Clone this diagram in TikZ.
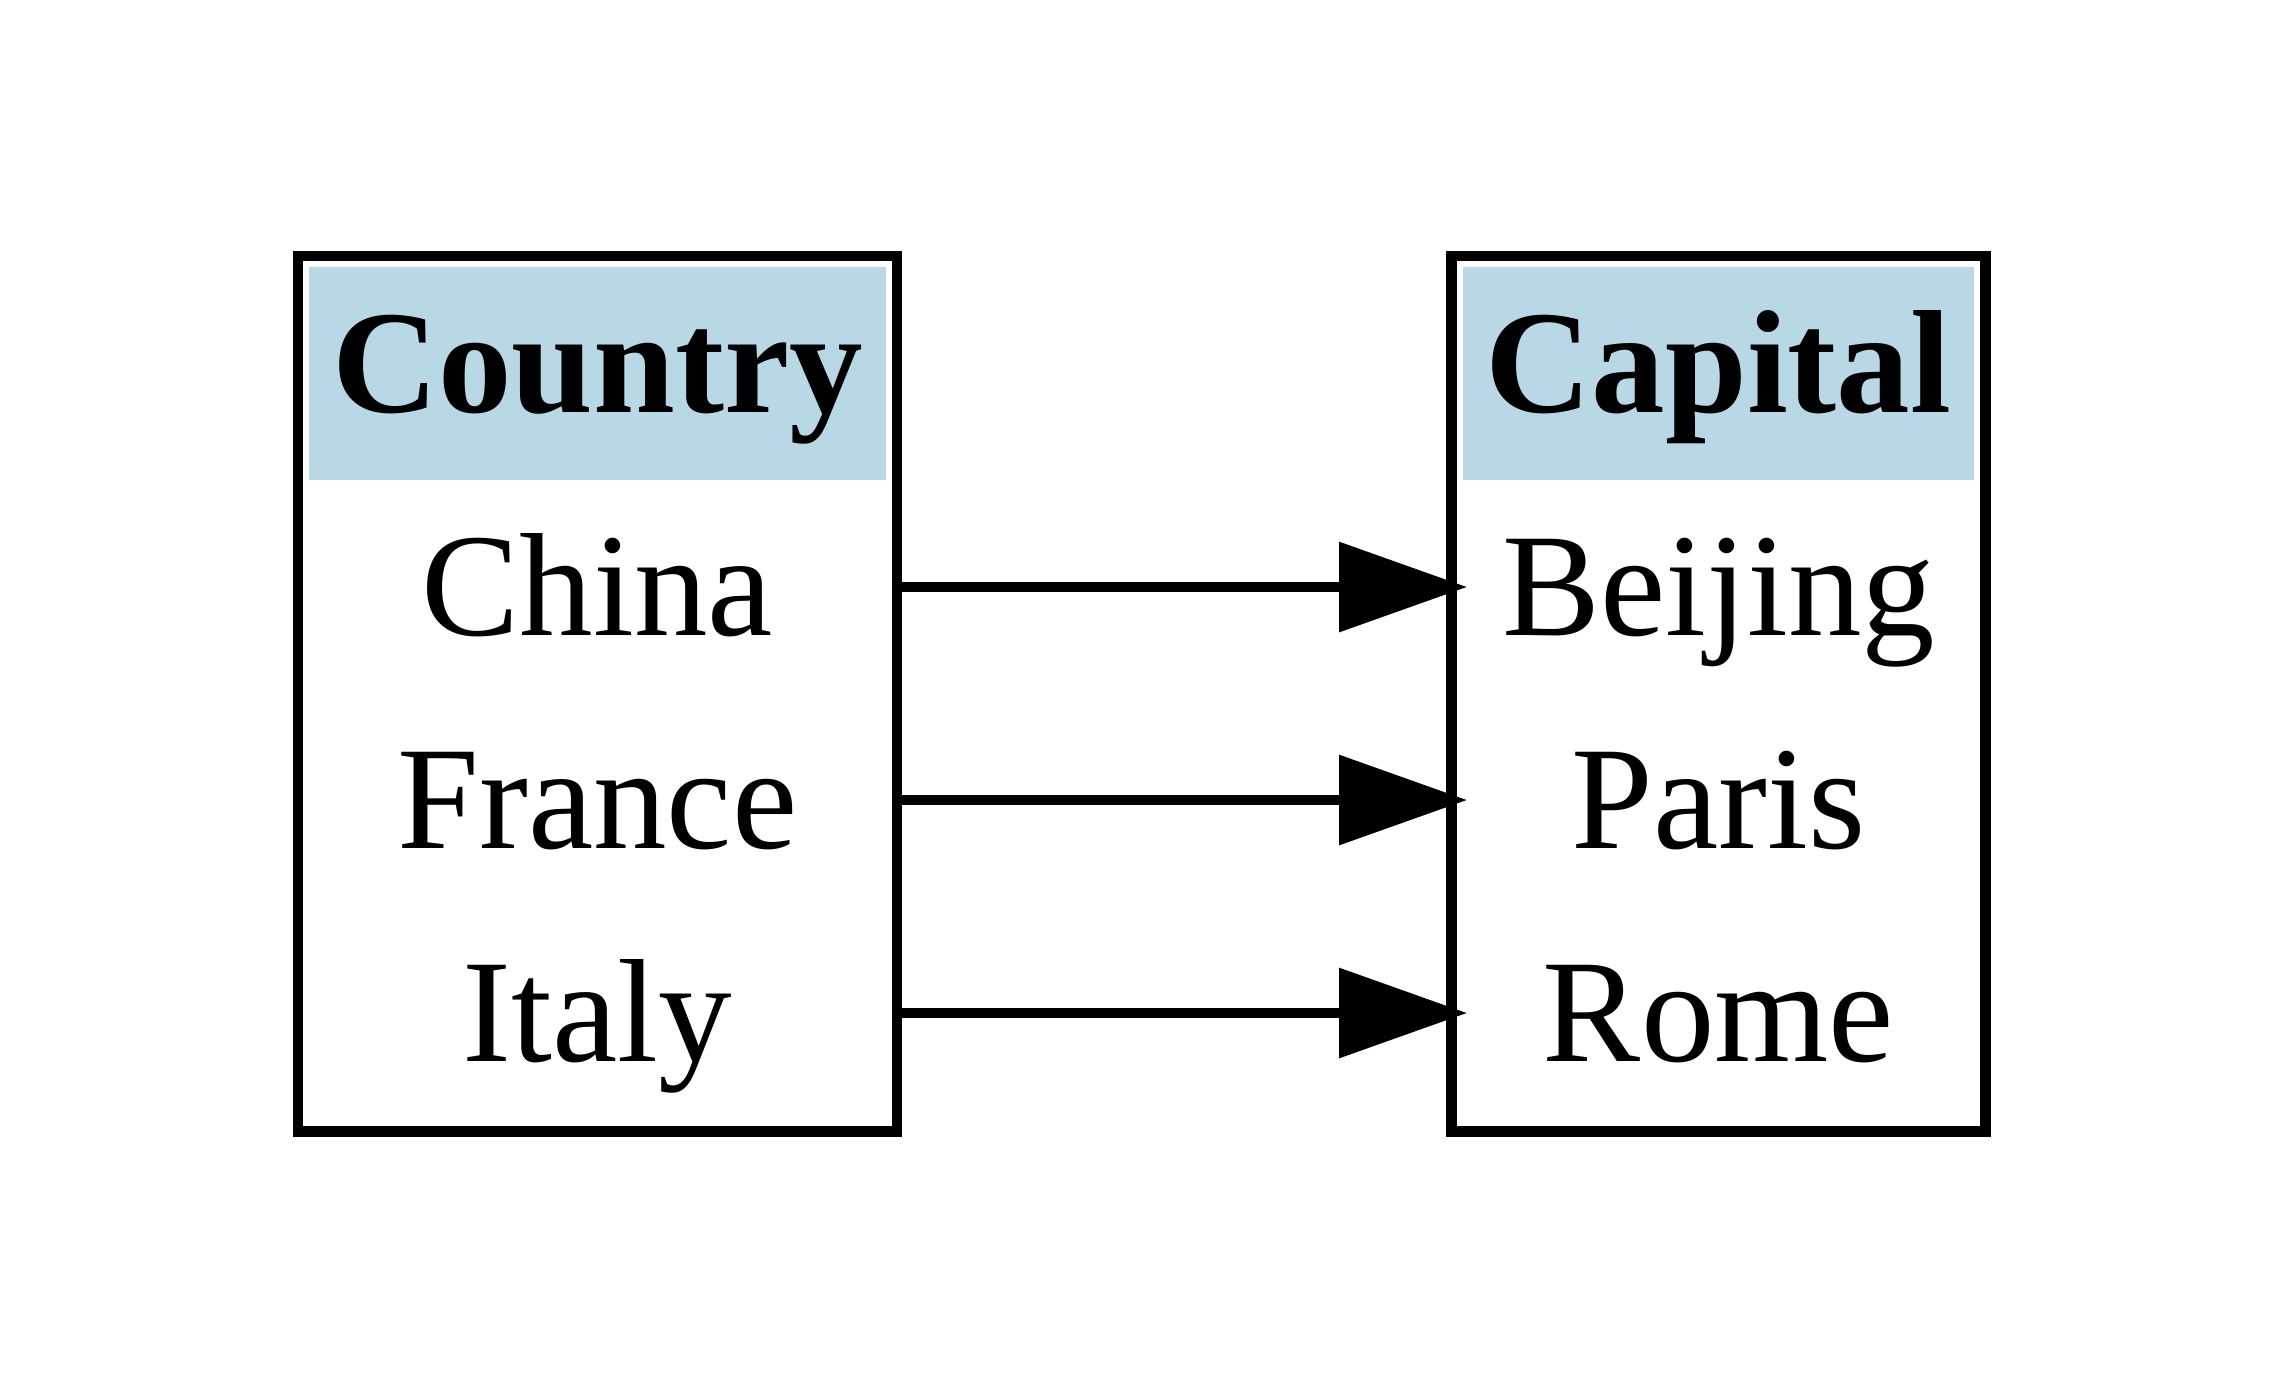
\documentclass[tikz,border=0pt]{standalone}
\usepackage{fontspec}
\setmainfont{Liberation Serif}
\usetikzlibrary{arrows.meta}
\definecolor{headblue}{RGB}{183,216,228}
\begin{document}
\begin{tikzpicture}[x=1pt,y=-1pt,
  tablebox/.style={draw=black, line width=2.625pt, inner sep=0pt, outer sep=0pt, minimum height=218.875pt},
  headcell/.style={fill=headblue, inner sep=0pt, outer sep=0pt, minimum height=53.25pt,
    text height=28pt, text depth=8.75pt, font=\fontsize{36.75pt}{44pt}\selectfont\bfseries},
  rowcell/.style={inner sep=0pt, outer sep=0pt, minimum height=53.25pt,
    text height=30pt, text depth=6pt, font=\fontsize{36.75pt}{44pt}\selectfont},
  edge/.style={draw=black, line width=2.5pt, shorten >=-3.875pt,
    -{Triangle[length=32pt, width=22pt]}}
]
\useasboundingbox (0,0) rectangle (570,346);
% left table
\node[tablebox, minimum width=149.75pt] (countrybox) at (149.375,173.4375) {};
\node[headcell, minimum width=144.25pt] (countryhead) at (149.375,93.375) {Country};
\node[rowcell, minimum width=149.75pt] (china) at (149.375,146.75) {China};
\node[rowcell, minimum width=149.75pt] (france) at (149.375,200) {France};
\node[rowcell, minimum width=149.75pt] (italy) at (149.375,253.25) {Italy};
% right table
\node[tablebox, minimum width=133.5pt] (capitalbox) at (429.625,173.4375) {};
\node[headcell, minimum width=127.75pt] (capitalhead) at (429.625,93.375) {Capital};
\node[rowcell, minimum width=133.5pt] (beijing) at (429.625,146.75) {Beijing};
\node[rowcell, minimum width=133.5pt] (paris) at (429.625,200) {Paris};
\node[rowcell, minimum width=133.5pt] (rome) at (429.625,253.25) {Rome};
% connectors
\draw[edge] (china.east) -- (beijing.west);
\draw[edge] (france.east) -- (paris.west);
\draw[edge] (italy.east) -- (rome.west);
\end{tikzpicture}
\end{document}
